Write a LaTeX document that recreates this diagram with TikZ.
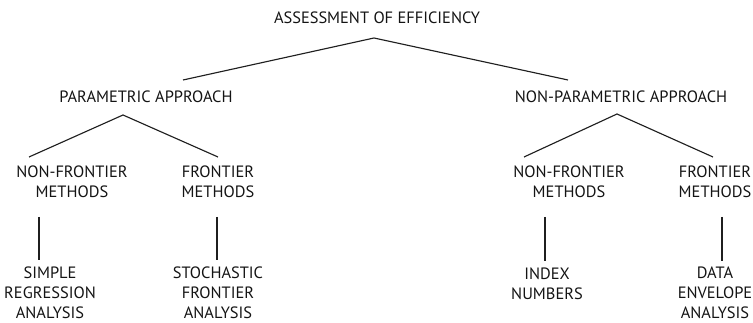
\documentclass[tikz,border=0pt]{standalone}
\usepackage{fontspec}
\setmainfont{PT Sans}
\begin{document}
\begin{tikzpicture}[x=0.75pt,y=-0.75pt,
  lbl/.style={font=\fontsize{12.3}{15}\selectfont, align=center, inner sep=0pt, text=black!92},
  conn/.style={line width=0.85pt, draw=black!88}]
\useasboundingbox (0,0) rectangle (753,323);
% text nodes
\node[lbl] (root) at (377,18) {ASSESSMENT OF EFFICIENCY};
\node[lbl] (par) at (146,97) {PARAMETRIC APPROACH};
\node[lbl] (npar) at (621,97) {NON-PARAMETRIC APPROACH};
\node[lbl] (pnf) at (72,182) {NON-FRONTIER\\METHODS};
\node[lbl] (pf) at (218,182) {FRONTIER\\METHODS};
\node[lbl] (nnf) at (569,182) {NON-FRONTIER\\METHODS};
\node[lbl] (nf) at (715,182) {FRONTIER\\METHODS};
\node[lbl] (sra) at (50,293) {SIMPLE\\REGRESSION\\ANALYSIS};
\node[lbl] (sfa) at (218,293) {STOCHASTIC\\FRONTIER\\ANALYSIS};
\node[lbl] (idx) at (547,284) {INDEX\\NUMBERS};
\node[lbl] (dea) at (715,293) {DATA\\ENVELOPE\\ANALYSIS};
% connector points
\coordinate (root-a) at (374,38);
\coordinate (par-t) at (183,80);
\coordinate (npar-t) at (568,80);
\coordinate (par-a) at (123,115);
\coordinate (pnf-t) at (29,157);
\coordinate (pf-t) at (218,157);
\coordinate (npar-a) at (617,114);
\coordinate (nnf-t) at (524,157);
\coordinate (nf-t) at (713,157);
\coordinate (pnf-b) at (39,217);
\coordinate (sra-t) at (39,260);
\coordinate (pf-b) at (217,217);
\coordinate (sfa-t) at (217,260);
\coordinate (nnf-b) at (545,217);
\coordinate (idx-t) at (545,261);
\coordinate (nf-b) at (722,217);
\coordinate (dea-t) at (722,261);
% connectors
\draw[conn] (par-t) -- (root-a) -- (npar-t);
\draw[conn] (pnf-t) -- (par-a) -- (pf-t);
\draw[conn] (nnf-t) -- (npar-a) -- (nf-t);
\draw[conn] (pnf-b) -- (sra-t);
\draw[conn] (pf-b) -- (sfa-t);
\draw[conn] (nnf-b) -- (idx-t);
\draw[conn] (nf-b) -- (dea-t);
\end{tikzpicture}
\end{document}
